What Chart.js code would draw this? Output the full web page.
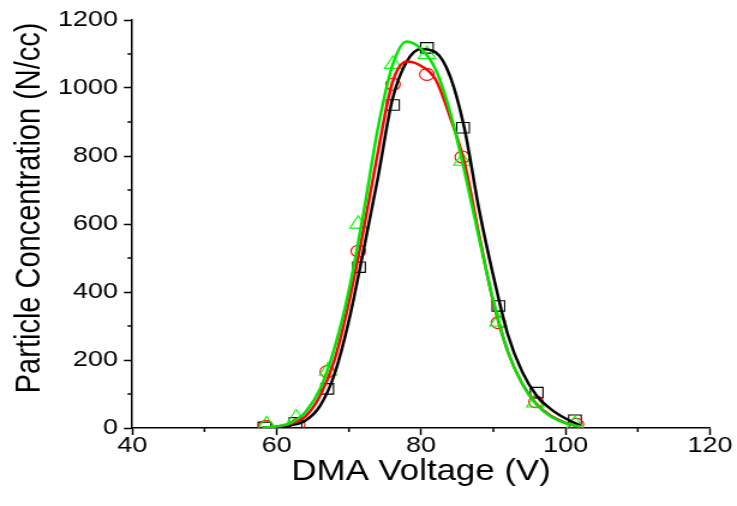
<!DOCTYPE html>
<html>
<head>
<meta charset="utf-8">
<script src="https://cdn.jsdelivr.net/npm/chart.js@4.4.1/dist/chart.umd.min.js"></script>
<style>
    html, body { margin: 0; padding: 0; background: #fff; }
</style>
</head>
<body>
<!-- the original figure is stretched sideways, so the canvas is drawn narrow and shown wide -->
<canvas id="myChart" width="614" height="506" style="width:737px;height:506px"></canvas>
<script>
// measured points (DMA voltage in V, concentration in N/cc)
let voltBlack = [58.3, 62.6, 67.0, 71.4, 76.1, 80.8, 85.8, 90.7, 96.0, 101.3];
let concBlack = [2, 15, 115, 473, 950, 1118, 883, 359, 104, 23];

let voltRed = [58.5, 62.9, 67.0, 71.3, 76.1, 80.8, 85.7, 90.7, 95.9, 101.5];
let concRed = [5, 10, 166, 520, 1011, 1040, 797, 310, 77, 11];

let voltGreen = [58.6, 62.7, 67.1, 71.3, 76.1, 80.8, 85.7, 90.7, 95.8, 101.3];
let concGreen = [10, 30, 168, 600, 1070, 1099, 785, 312, 74, 11];

// fitted curves
let curveVolt = [58, 60, 62, 64, 66, 68, 70, 72, 74, 76, 78, 80, 82, 84, 86, 88, 90, 92, 94, 96, 98, 100, 102];
let fitBlack = [1, 2, 8, 22, 65, 158, 316, 520, 735, 965, 1078, 1115, 1105, 1035, 880, 645, 447, 275, 165, 95, 55, 28, 8];
let fitRed = [1, 4, 13, 35, 95, 200, 370, 580, 810, 1015, 1078, 1065, 1025, 915, 780, 570, 370, 225, 130, 70, 35, 15, 4];
let fitGreen = [1, 5, 16, 48, 115, 235, 405, 630, 880, 1065, 1137, 1115, 1055, 930, 755, 560, 374, 225, 130, 68, 33, 14, 4];

let xTicks = [40, 60, 80, 100, 120];
let yTicks = [0, 200, 400, 600, 800, 1000, 1200];
let xMinor = [50, 70, 90, 110];
let yMinor = [100, 300, 500, 700, 900, 1100];

const FONT = "'Liberation Sans', Arial, sans-serif";


function toPoints(xs, ys) {
    return xs.map((x, i) => ({ x: x, y: ys[i] }));
}


function markerSet(xs, ys, color, style, radius, order) {
    return {
        type: 'scatter',
        data: toPoints(xs, ys),
        pointStyle: style,
        pointRadius: radius,
        pointHoverRadius: radius,
        pointBorderWidth: 1.1,
        pointBorderColor: color,
        pointBackgroundColor: 'rgba(0,0,0,0)',
        showLine: false,
        order: order
    };
}


function curveSet(ys, color, order) {
    return {
        type: 'line',
        data: toPoints(curveVolt, ys),
        borderColor: color,
        borderWidth: 2.5,
        pointRadius: 0,
        fill: false,
        cubicInterpolationMode: 'monotone',
        order: order
    };
}


// short minor ticks between the labelled ones
const minorTicks = {
    id: 'minorTicks',
    afterDraw(chart) {
        let ctx = chart.ctx;
        let xs = chart.scales.x;
        let ys = chart.scales.y;
        ctx.save();
        ctx.strokeStyle = '#000';
        ctx.lineWidth = 1.5;
        ctx.beginPath();
        xMinor.forEach(v => {
            let px = xs.getPixelForValue(v);
            ctx.moveTo(px, ys.bottom);
            ctx.lineTo(px, ys.bottom + 4);
        });
        yMinor.forEach(v => {
            let py = ys.getPixelForValue(v);
            ctx.moveTo(xs.left, py);
            ctx.lineTo(xs.left - 4, py);
        });
        ctx.stroke();
        ctx.restore();
    }
};


const ctx = document.getElementById('myChart');

new Chart(ctx, {
    data: {
        datasets: [
            curveSet(fitGreen, '#00e400', 0),
            curveSet(fitRed, '#ff0000', 1),
            curveSet(fitBlack, '#000000', 2),
            markerSet(voltGreen, concGreen, '#00ff00', 'triangle', 8.3, 3),
            markerSet(voltRed, concRed, '#ff0000', 'circle', 6, 4),
            markerSet(voltBlack, concBlack, '#000000', 'rect', 7.4, 5)
        ]
    },
    options: {
        responsive: false,
        animation: false,
        events: [],
        layout: {
            padding: { left: 0, right: 22.5, top: 20, bottom: 0 }
        },
        scales: {
            x: {
                type: 'linear',
                min: 40,
                max: 120,
                afterBuildTicks: (scale) => {
                    scale.ticks = xTicks.map(v => ({ value: v }));
                },
                afterFit: (scale) => { scale.height = 78; },
                grid: { drawOnChartArea: false, tickLength: 7, tickWidth: 1.5, tickColor: '#000' },
                border: { color: '#000', width: 1.5 },
                ticks: {
                    color: '#000',
                    font: { family: FONT, size: 22.5, lineHeight: 1 },
                    padding: 0,
                    maxRotation: 0,
                    autoSkip: false,
                    callback: (v) => String(v)
                },
                title: {
                    display: true,
                    text: 'DMA Voltage (V)',
                    color: '#000',
                    font: { family: FONT, size: 29 },
                    padding: { top: 17, bottom: 17 }
                }
            },
            y: {
                type: 'linear',
                min: 0,
                max: 1200,
                afterBuildTicks: (scale) => {
                    scale.ticks = yTicks.map(v => ({ value: v }));
                },
                afterFit: (scale) => { scale.width = 110.2; },
                grid: { drawOnChartArea: false, tickLength: 7, tickWidth: 1.5, tickColor: '#000' },
                border: { color: '#000', width: 1.5 },
                ticks: {
                    color: '#000',
                    font: { family: FONT, size: 22.5 },
                    padding: 5,
                    callback: (v) => String(v)
                },
                title: {
                    display: true,
                    // leading spaces lift the label a little, as in the original
                    text: '    Particle Concentration (N/cc)',
                    color: '#000',
                    font: { family: FONT, size: 29 },
                    padding: { top: 8, bottom: 8 }
                }
            }
        },
        plugins: {
            legend: { display: false },
            tooltip: { enabled: false }
        }
    },
    plugins: [minorTicks]
});
</script>
</body>
</html>
